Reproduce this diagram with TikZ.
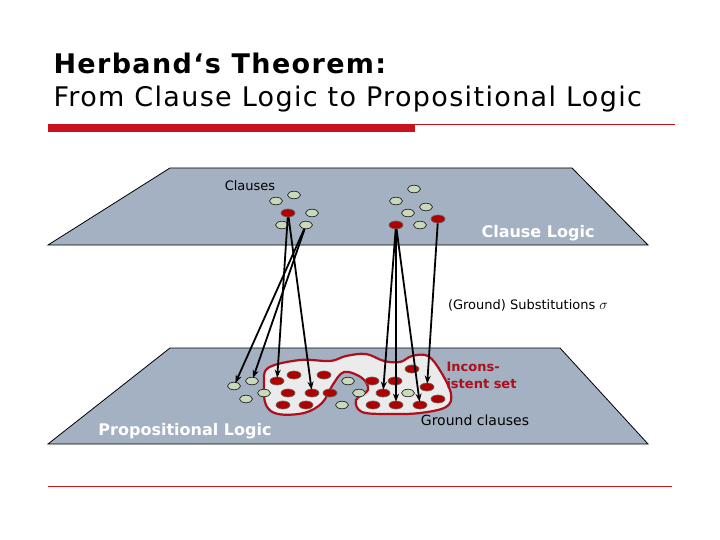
\documentclass[tikz,border=0pt]{standalone}
\usepackage{fontspec}
\setmainfont{DejaVu Sans}
\usetikzlibrary{arrows.meta,shapes.geometric}
\definecolor{planegray}{HTML}{A3B1C2}
\definecolor{ovalgreen}{HTML}{C9D9B9}
\definecolor{ovalred}{HTML}{B00000}
\definecolor{titlered}{HTML}{CC1122}
\begin{document}
\begin{tikzpicture}[x=1pt, y=-1pt,
    plane/.style={fill=planegray, draw=black, line width=0.8pt},
    gcl/.style={ellipse, draw=black!85, fill=ovalgreen, line width=0.7pt, minimum width=13pt, minimum height=7.5pt, inner sep=0pt},
    rcl/.style={ellipse, draw=black!60, fill=ovalred, line width=0.7pt, minimum width=14pt, minimum height=8pt, inner sep=0pt},
    arrow/.style={-{Stealth[length=8pt,width=6pt]}, line width=1.8pt, shorten >=-1pt}
]
\useasboundingbox (0,0) rectangle (720,540);
\fill[white] (0,0) rectangle (720,540);
% title
\node[anchor=west, font=\bfseries\fontsize{27}{30}\selectfont\addfontfeature{LetterSpace=5}] (title) at (50,63) {Herband‘s Theorem:};
\node[anchor=west, font=\fontsize{27}{30}\selectfont\addfontfeature{LetterSpace=5}] (subtitle) at (50,99) {From Clause Logic to Propositional Logic};
\fill[titlered] (48,124) rectangle (415,132);
\draw[titlered, line width=0.8pt] (415,124) -- (675,124);
\draw[titlered, line width=0.8pt] (48,486) -- (672,486);
% planes
\draw[plane] (170,168) -- (572,168) -- (648,245) -- (48,245) -- cycle;
\draw[plane] (170,348) -- (560,348) -- (648,444) -- (48,444) -- cycle;
% inconsistent set
\draw[titlered!85!black, line width=2.2pt, fill=black!8] plot[smooth cycle, tension=0.6] coordinates {
  (268,368) (300,360) (330,361) (346,356) (366,354) (384,361) (400,362) (412,356) (428,356)
  (441,372) (451,394) (446,407) (420,413) (390,414) (362,412) (356,400) (368,390) (362,378)
  (344,372) (332,386) (322,403) (304,413) (278,414) (266,405) (264,385)};
% clauses on top
\node[gcl] (t1) at (276,201) {};
\node[gcl] (t2) at (294,195) {};
\node[gcl] (t3) at (312,213) {};
\node[gcl] (t4) at (282,225) {};
\node[gcl] (t5) at (306,225) {};
\node[rcl] (t6) at (288,213) {};
\node[gcl] (t7) at (414,189) {};
\node[gcl] (t8) at (396,201) {};
\node[gcl] (t9) at (426,207) {};
\node[gcl] (t10) at (408,213) {};
\node[gcl] (t11) at (420,225) {};
\node[rcl] (t12) at (396,225) {};
\node[rcl] (t13) at (438,219) {};
% ground clauses
\node[gcl] (g1) at (234,386) {};
\node[gcl] (g2) at (252,381) {};
\node[gcl] (g3) at (246,399) {};
\node[gcl] (g4) at (264,393) {};
\node[gcl] (g5) at (348,381) {};
\node[gcl] (g6) at (359,393) {};
\node[gcl] (g7) at (342,405) {};
\node[gcl] (g8) at (408,393) {};
\node[rcl] (r1) at (277,381) {};
\node[rcl] (r2) at (294,375) {};
\node[rcl] (r3) at (324,375) {};
\node[rcl] (r4) at (312,393) {};
\node[rcl] (r5) at (288,393) {};
\node[rcl] (r6) at (330,393) {};
\node[rcl] (r7) at (283,405) {};
\node[rcl] (r8) at (306,405) {};
\node[rcl] (r9) at (372,381) {};
\node[rcl] (r10) at (395,381) {};
\node[rcl] (r11) at (412,369) {};
\node[rcl] (r12) at (383,393) {};
\node[rcl] (r13) at (427,387) {};
\node[rcl] (r14) at (373,405) {};
\node[rcl] (r15) at (396,405) {};
\node[rcl] (r16) at (420,405) {};
\node[rcl] (r17) at (438,399) {};
% substitutions
\draw[arrow] (t6) -- (r1);
\draw[arrow] (t6) -- (r4);
\draw[arrow] (t5) -- (g1);
\draw[arrow] (t5) -- (g2);
\draw[arrow] (t12) -- (r12);
\draw[arrow] (t12) -- (r15);
\draw[arrow] (t12) -- (r16);
\draw[arrow] (t13) -- (r13);
% labels
\node[font=\fontsize{13}{15}\selectfont] (clauses) at (250,186) {Clauses};
\node[text=white, font=\bfseries\fontsize{16}{20}\selectfont] (cl) at (538,233) {Clause Logic};
\node[font=\fontsize{13}{15}\selectfont] (subst) at (528,305) {(Ground) Substitutions {\fontsize{15}{15}\selectfont$\sigma$}};
\node[anchor=west, align=left, text=titlered!85!black, font=\bfseries\fontsize{13}{17}\selectfont] (incons) at (443,375) {Incons-\\istent set};
\node[font=\fontsize{14}{16}\selectfont] (ground) at (475,420) {Ground clauses};
\node[text=white, font=\bfseries\fontsize{16}{20}\selectfont] (pl) at (185,431) {Propositional Logic};
\end{tikzpicture}
\end{document}
